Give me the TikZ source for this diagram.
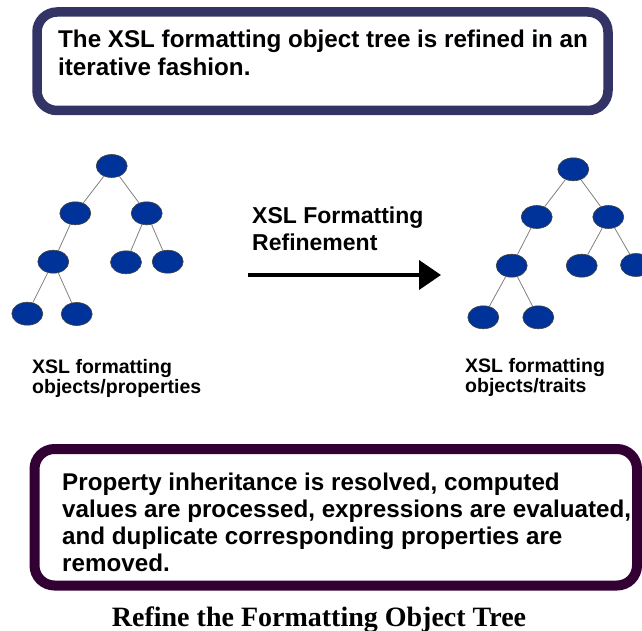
\documentclass[tikz,border=0pt]{standalone}
\usepackage{fontspec}
\setmainfont{Liberation Sans}
\newfontfamily\capfont{Liberation Serif}
\usetikzlibrary{arrows.meta,shapes.geometric}
\definecolor{topframe}{RGB}{51,51,102}
\definecolor{botframe}{RGB}{51,0,51}
\definecolor{leaffill}{RGB}{0,51,153}
\definecolor{edgegray}{RGB}{128,128,128}
\tikzset{
  treenode/.style={ellipse, draw=darkgray, line width=0.6pt, fill=leaffill, minimum width=31pt, minimum height=23pt, inner sep=0pt},
  treeedge/.style={draw=edgegray, line width=0.8pt},
  framebox/.style={draw, rounded corners=20pt, line width=9.5pt, fill=white, inner sep=0pt},
  bigtext/.style={anchor=base west, inner sep=0pt, align=left, font=\bfseries\fontsize{24.2}{27.3}\selectfont},
  midtext/.style={anchor=base west, inner sep=0pt, align=left, font=\bfseries\fontsize{23}{27}\selectfont},
  smalltext/.style={anchor=base west, inner sep=0pt, align=left, font=\bfseries\fontsize{19.5}{20}\selectfont},
}
\begin{document}
\begin{tikzpicture}[x=1pt,y=-1pt]
\useasboundingbox (0,0) rectangle (642,631);
% top box
\node[framebox, draw=topframe, minimum width=571pt, minimum height=98.5pt] (topbox) at (322.5,61.25) {};
\node[bigtext] (toptext) at (58,75.3) {The XSL formatting object tree is refined in an\\iterative fashion.};
% left tree
\node[treenode] (a0) at (111.7,166) {};
\node[treenode] (a1) at (75.3,213.3) {};
\node[treenode] (a2) at (146.7,213.3) {};
\node[treenode] (a3) at (53.3,261.7) {};
\node[treenode] (a4) at (126,262.3) {};
\node[treenode] (a5) at (167.7,261.7) {};
\node[treenode] (a6) at (27.3,313.7) {};
\node[treenode] (a7) at (76.7,314) {};
\draw[treeedge] (a0) -- (a1);
\draw[treeedge] (a0) -- (a2);
\draw[treeedge] (a1) -- (a3);
\draw[treeedge] (a2) -- (a4);
\draw[treeedge] (a2) -- (a5);
\draw[treeedge] (a3) -- (a6);
\draw[treeedge] (a3) -- (a7);
% right tree
\node[treenode] (b0) at (573.3,169.3) {};
\node[treenode] (b1) at (536.7,217) {};
\node[treenode] (b2) at (608.3,217) {};
\node[treenode] (b3) at (511.7,265.7) {};
\node[treenode] (b4) at (581.7,265.7) {};
\node[treenode] (b5) at (636,265) {};
\node[treenode] (b6) at (483.3,317.3) {};
\node[treenode] (b7) at (538.3,317.3) {};
\draw[treeedge] (b0) -- (b1);
\draw[treeedge] (b0) -- (b2);
\draw[treeedge] (b1) -- (b3);
\draw[treeedge] (b2) -- (b4);
\draw[treeedge] (b2) -- (b5);
\draw[treeedge] (b3) -- (b6);
\draw[treeedge] (b3) -- (b7);
% arrow
\node[midtext] (midlabel) at (252,250) {XSL Formatting\\Refinement};
\coordinate (arrS) at (248,275);
\coordinate (arrE) at (441,275);
\draw[line width=4pt, -{Triangle[length=22pt,width=29pt]}] (arrS) -- (arrE);
% labels
\node[smalltext] (leftlabel) at (32,393) {XSL formatting\\objects/properties};
\node[smalltext] (rightlabel) at (465,392) {XSL formatting\\objects/traits};
% bottom box
\node[framebox, draw=botframe, line width=10pt, minimum width=602.5pt, minimum height=136.5pt] (botbox) at (335.75,517.25) {};
\node[bigtext] (bottext) at (62,571.9) {Property inheritance is resolved, computed\\values are processed, expressions are evaluated,\\and duplicate corresponding properties are\\removed.};
% caption
\node[anchor=base, inner sep=0pt, font=\capfont\bfseries\fontsize{28}{30}\selectfont] (caption) at (319,626.5) {Refine the Formatting Object Tree};
\end{tikzpicture}
\end{document}
